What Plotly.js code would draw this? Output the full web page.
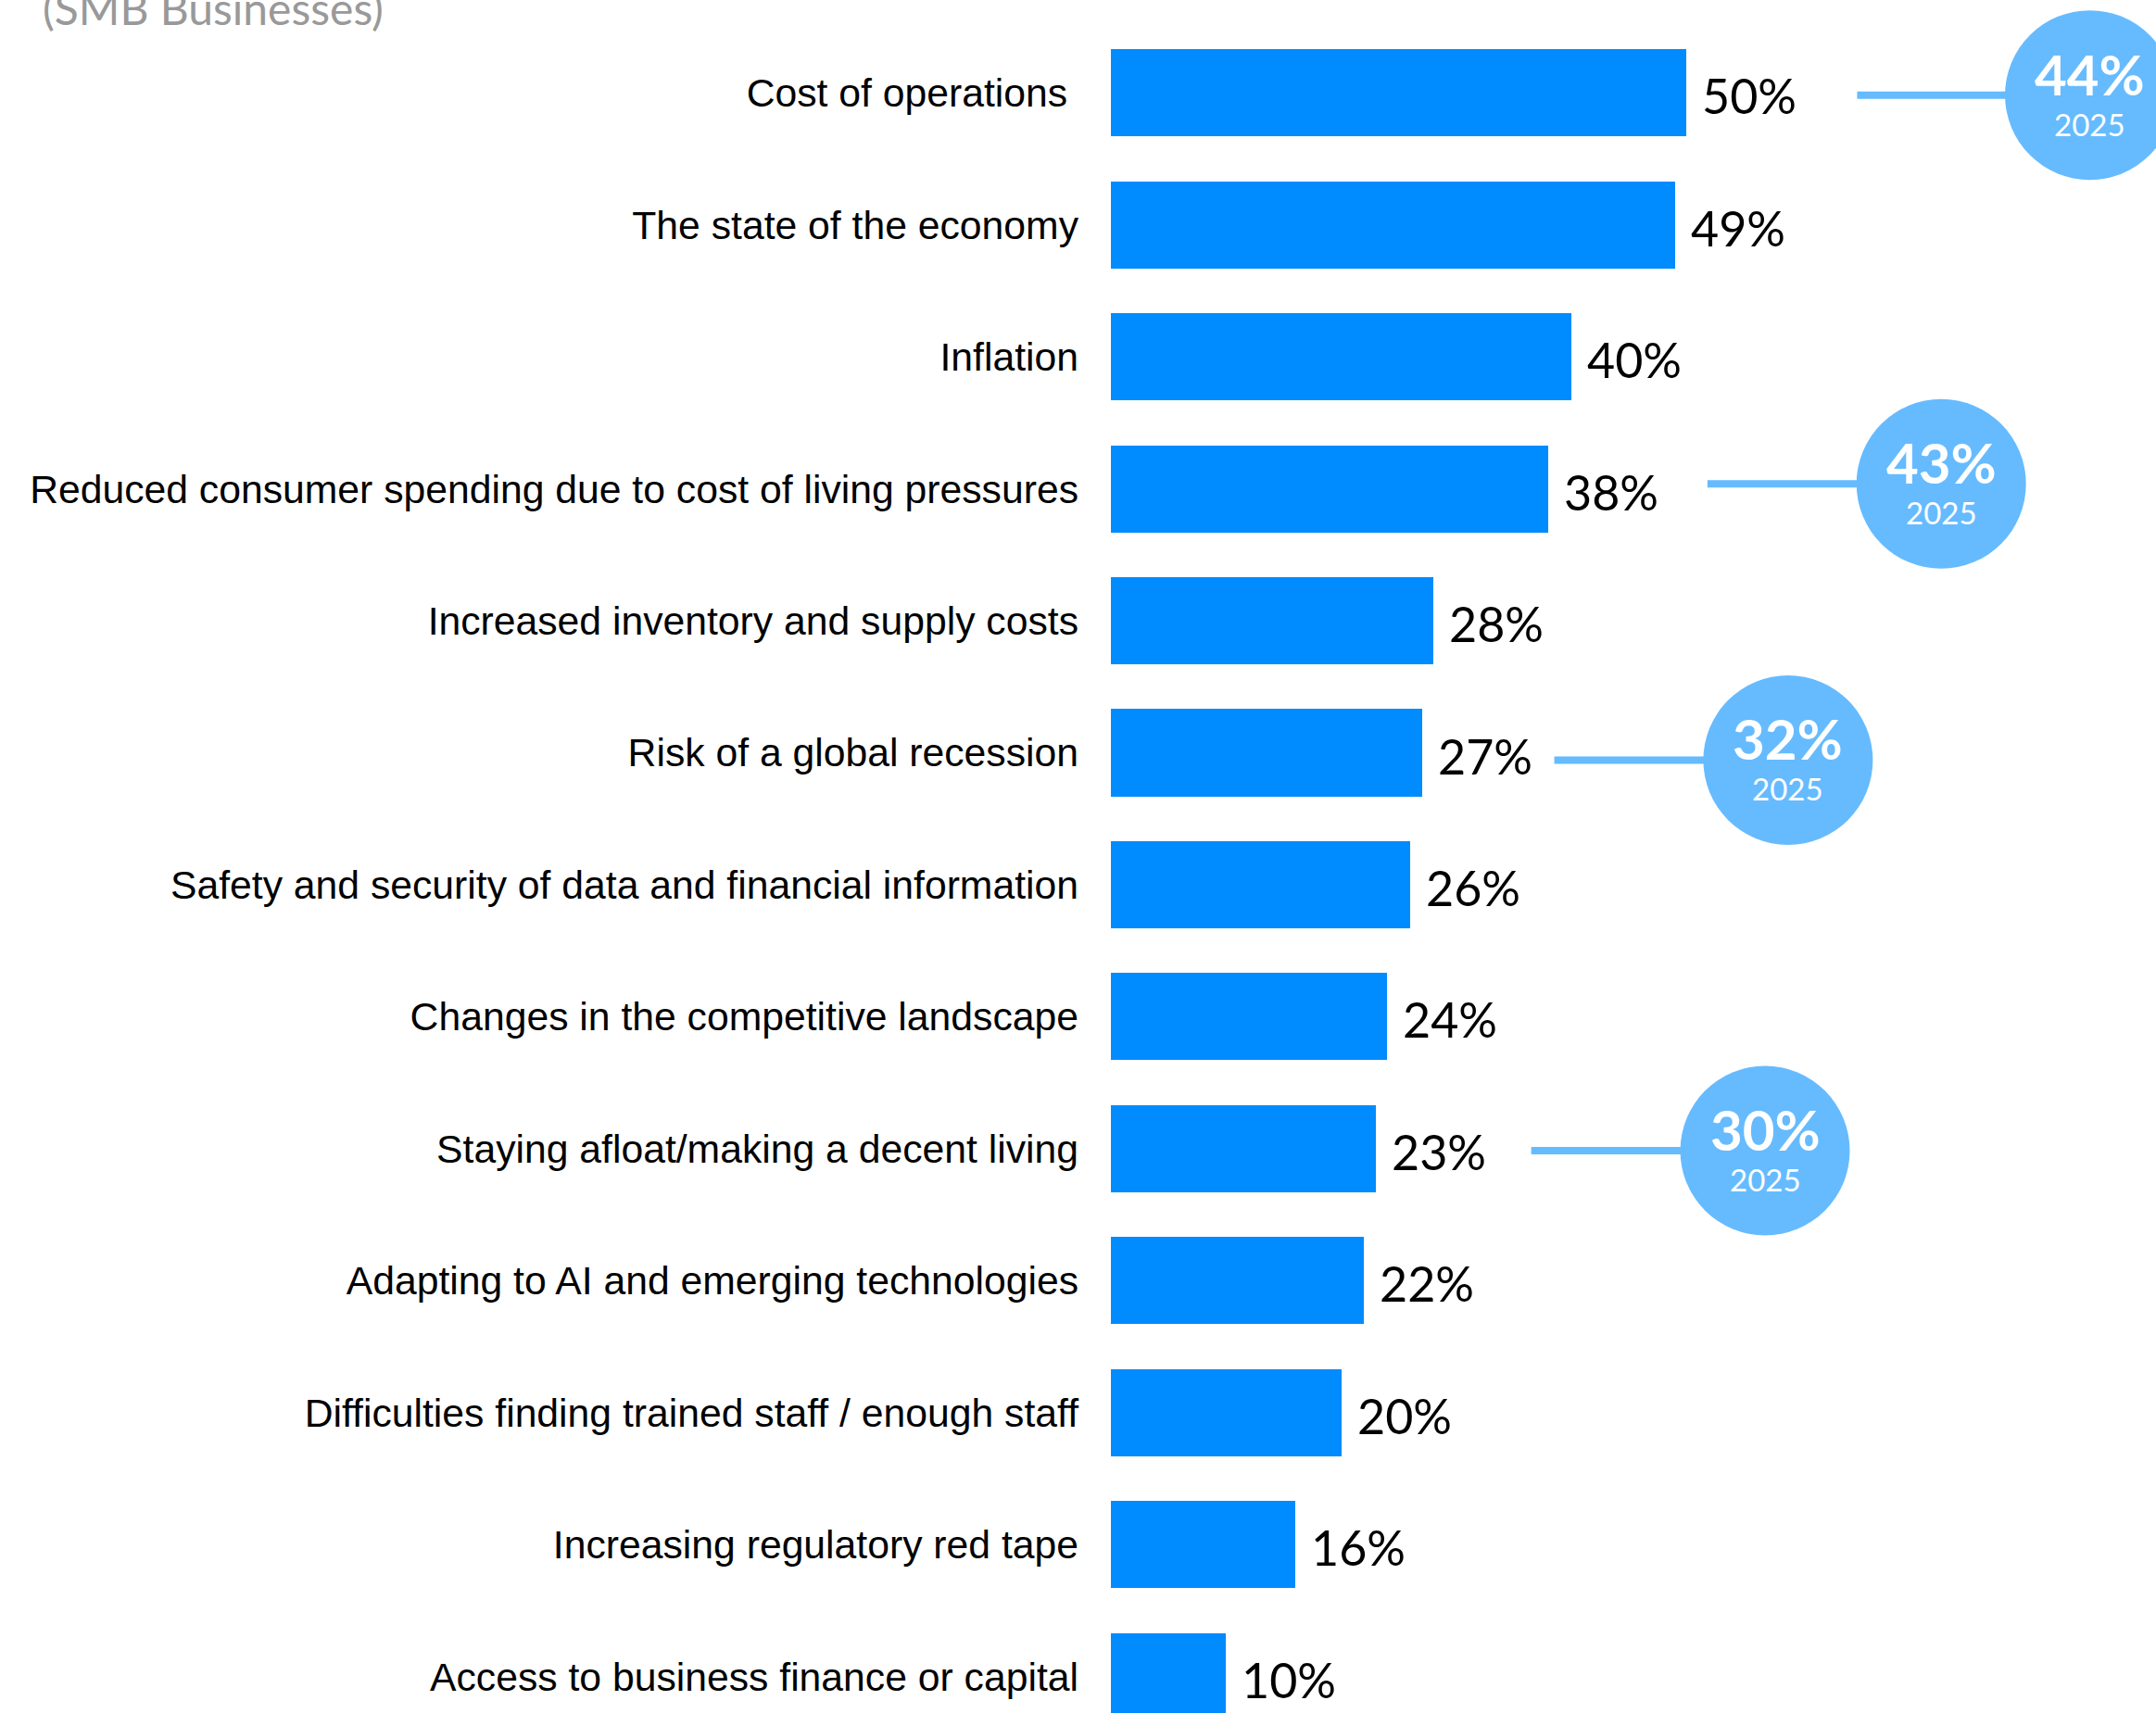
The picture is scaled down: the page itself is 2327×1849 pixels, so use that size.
<!DOCTYPE html>
<html>
<head>
<meta charset="utf-8">
<script src="https://cdn.plot.ly/plotly-3.0.1.min.js"></script>
<style>
  html, body { margin: 0; padding: 0; background: #ffffff; }
  #chart { width: 2327px; height: 1849px; }
</style>
</head>
<body>
<div id="chart"></div>
<script>
// ---------- DATA ----------
const categories = [
  "Cost of operations ",
  "The state of the economy",
  "Inflation",
  "Reduced consumer spending due to cost of living pressures",
  "Increased inventory and supply costs",
  "Risk of a global recession",
  "Safety and security of data and financial information",
  "Changes in the competitive landscape",
  "Staying afloat/making a decent living",
  "Adapting to AI and emerging technologies",
  "Difficulties finding trained staff / enough staff",
  "Increasing regulatory red tape",
  "Access to business finance or capital"
];
const values = [50, 49, 40, 38, 28, 27, 26, 24, 23, 22, 20, 16, 10];

// comparison bubbles (2025 values) and the rows they belong to
const bubbleRows = [0, 3, 5, 8];
const bubbleValues = [44, 43, 32, 30];
const bubbleYear = "2025";
const subtitle = "(SMB Businesses)";

// ---------- LAYOUT-ONLY POSITIONS (x in axis units) ----------
const bubbleCenterX = [85.0, 72.1, 58.8, 56.8];
const lineStartX = [64.8, 51.8, 38.5, 36.5];
const bubbleDy = [0.017, -0.037, 0.056, 0.015];

// ---------- STYLES ----------
const barColor = "#008BFF";
const bubbleColor = "#66BBFF";
const labelFont = "Liberation Sans, Arial, sans-serif";
const numFont = "Lato, 'Open Sans', sans-serif";

const idx = categories.map((_, i) => i);

const traces = [];
traces.push({
  type: "bar",
  orientation: "h",
  x: values,
  y: idx,
  width: 0.66,
  marker: { color: barColor, line: { width: 0 } },
  hoverinfo: "skip",
  showlegend: false
});

bubbleRows.forEach((r, k) => {
  traces.push({
    type: "scatter",
    mode: "lines",
    x: [lineStartX[k], bubbleCenterX[k]],
    y: [r + bubbleDy[k], r + bubbleDy[k]],
    line: { color: bubbleColor, width: 8 },
    hoverinfo: "skip",
    showlegend: false,
    cliponaxis: false
  });
});

traces.push({
  type: "scatter",
  mode: "markers",
  x: bubbleCenterX,
  y: bubbleRows.map((r, k) => r + bubbleDy[k]),
  marker: { size: 183, color: bubbleColor, line: { width: 0 } },
  hoverinfo: "skip",
  showlegend: false,
  cliponaxis: false
});

const annotations = [];
values.forEach((v, i) => {
  annotations.push({
    x: v, y: i, xref: "x", yref: "y",
    text: v + "%",
    showarrow: false,
    xanchor: "left", yanchor: "middle",
    xshift: 15, yshift: -3,
    font: { family: numFont, size: 52, color: "#000000" }
  });
});
bubbleRows.forEach((r, k) => {
  annotations.push({
    x: bubbleCenterX[k], y: r + bubbleDy[k], xref: "x", yref: "y",
    text: "<b>" + bubbleValues[k] + "%</b>",
    showarrow: false, xanchor: "center", yanchor: "middle",
    yshift: 23,
    font: { family: numFont, size: 60, color: "#ffffff" }
  });
  annotations.push({
    x: bubbleCenterX[k], y: r + bubbleDy[k], xref: "x", yref: "y",
    text: bubbleYear,
    showarrow: false, xanchor: "center", yanchor: "middle",
    yshift: -31,
    font: { family: numFont, size: 33, color: "#ffffff" }
  });
});
annotations.push({
  xref: "paper", yref: "paper",
  x: (44 - 1199) / 1128, y: 1 + (29 - 8) / 1820,
  xanchor: "left", yanchor: "middle",
  text: subtitle, showarrow: false,
  font: { family: numFont, size: 48, color: "#999999" }
});

const layout = {
  width: 2327, height: 1849,
  margin: { l: 1199, r: 0, t: 29, b: 0, pad: 0, autoexpand: false },
  paper_bgcolor: "#ffffff",
  plot_bgcolor: "#ffffff",
  showlegend: false,
  bargap: 0,
  xaxis: {
    range: [0, 90.75],
    showgrid: false, zeroline: false, showline: false,
    showticklabels: false, ticks: "", fixedrange: true
  },
  yaxis: {
    range: [12.276, -0.5],
    tickmode: "array",
    tickvals: idx,
    ticktext: categories,
    showgrid: false, zeroline: false, showline: false,
    ticks: "", ticklabelstandoff: 34,
    automargin: false,
    tickfont: { family: labelFont, size: 42.7, color: "#000000" },
    fixedrange: true
  },
  annotations: annotations
};

Plotly.newPlot("chart", traces, layout, { displayModeBar: false, staticPlot: true });
</script>
</body>
</html>
